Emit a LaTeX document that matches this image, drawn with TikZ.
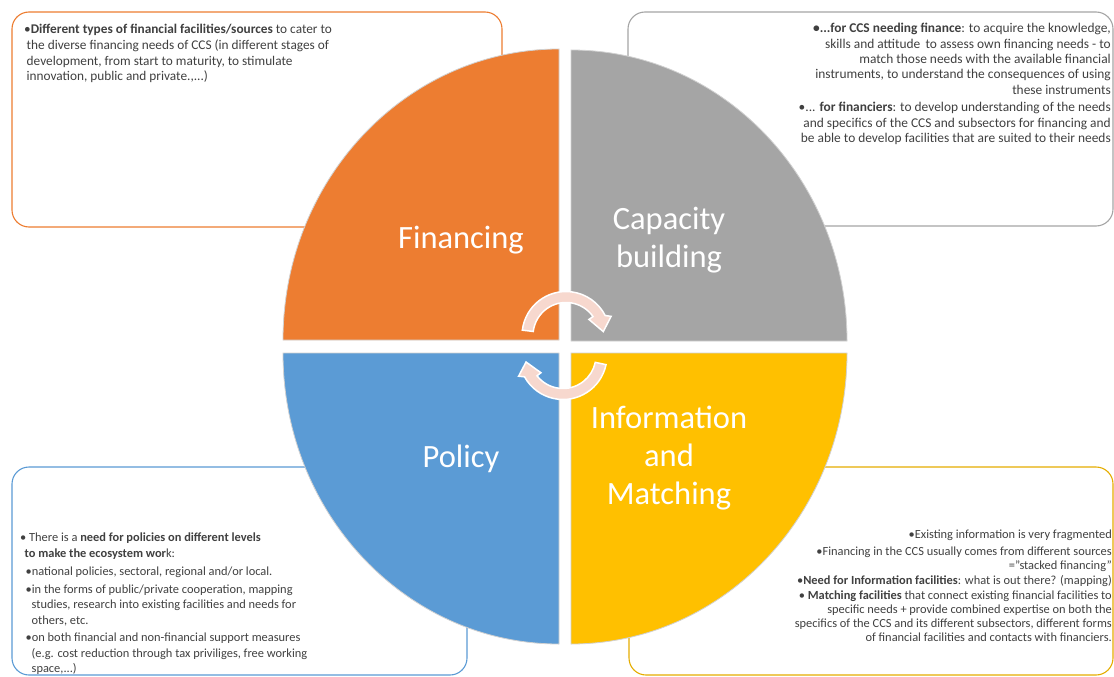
\documentclass[tikz,border=0pt]{standalone}
\usepackage{fontspec}
\setmainfont{Carlito}
\usetikzlibrary{calc}
\definecolor{corange}{HTML}{ED7D31}
\definecolor{cgray}{HTML}{A5A5A5}
\definecolor{cyellow}{HTML}{FFC000}
\definecolor{cblue}{HTML}{5B9BD5}
\definecolor{cpink}{RGB}{247,216,206}
\definecolor{ctext}{HTML}{404040}
\newcommand\bul{\textbullet}
\setlength{\lineskiplimit}{-30pt}
\begin{document}
\begin{tikzpicture}[x=1pt,y=-1pt,
  box/.style={draw=#1, line width=1.1pt, rounded corners=17pt, fill=white, inner sep=0pt, rectangle},
  quad/.style={fill=#1, draw=black!18, line width=0.8pt},
  biglabel/.style={text=white, font=\fontsize{32.5}{38}\selectfont, align=center, inner sep=0pt},
  bodytext/.style={text=ctext, inner sep=0pt},
  cyclearrow/.style={fill=cpink, draw=white, line width=1.5pt, line join=miter}]
\useasboundingbox[fill=white] (0,0) rectangle (1114,677);
% text boxes
\node[box=corange, minimum width=490pt, minimum height=215pt] (boxfin) at (257,119.5) {};
\node[box=cgray, minimum width=485pt, minimum height=214pt] (boxcap) at (870.5,119) {};
\node[box=cblue, minimum width=455pt, minimum height=208pt] (boxpol) at (239.5,571) {};
\node[box=cyellow!90!black, minimum width=484pt, minimum height=208pt] (boxinf) at (871,571) {};
% quadrants
\path[quad=corange] (559,340) -- (283,340) arc[start angle=180, end angle=270, x radius=276, y radius=291] -- cycle;
\path[quad=cgray] (571,341) -- (571,50) arc[start angle=270, end angle=360, x radius=276, y radius=291] -- cycle;
\path[quad=cyellow] (571,353) -- (847,353) arc[start angle=0, end angle=90, x radius=276, y radius=291] -- cycle;
\path[quad=cblue] (559,353) -- (559,644) arc[start angle=90, end angle=180, x radius=276, y radius=291] -- cycle;
% labels
\node[biglabel] (lfin) at (461,240) {Financing};
\node[biglabel] (lcap) at (669,240) {Capacity\\building};
\node[biglabel] (lpol) at (461,459) {Policy};
\node[biglabel] (linf) at (669,458) {Information\\and\\Matching};
% cycle arrows
\coordinate (U) at (566,335.5);
\coordinate (L) at (563,355.5);
\path[cyclearrow] ($(U)+(187:44)$) arc[start angle=187, end angle=333, radius=44]
  -- ($(U)+(337:49)$) -- ($(U)+(354:37.5)$) -- ($(U)+(325:28)$) -- ($(U)+(325:33)$)
  arc[start angle=325, end angle=187, radius=33] -- cycle;
\path[cyclearrow] ($(L)+(12:44)$) arc[start angle=12, end angle=151, radius=44]
  -- ($(L)+(155:49)$) -- ($(L)+(170:37.5)$) -- ($(L)+(142:28)$) -- ($(L)+(142:33)$)
  arc[start angle=142, end angle=12, radius=33] -- cycle;
% body texts
\node[bodytext, anchor=north west, align=left,
  font=\fontsize{13.3}{15.8}\selectfont] (tfin) at (24,24)
  {\bul\textbf{Different types of financial facilities/sources} to cater to\\
   \hspace{2.5pt}the diverse financing needs of CCS (in different stages of\\
   \hspace{2.5pt}development, from start to maturity, to stimulate\\
   \hspace{2.5pt}innovation, public and private.,...)};
\node[bodytext, anchor=north east, align=right,
  font=\fontsize{13.4}{15.4}\selectfont] (tcap) at (1111,23)
  {\textbf{\bul...for CCS needing finance}: to acquire the knowledge,\\
   skills and attitude\, to assess own financing needs - to\\
   match those needs with the available financial\\
   instruments, to understand the consequences of using\\
   these instruments\\[2pt]
   \bul... \textbf{for financiers}: to develop understanding of the needs\\
   and specifics of the CCS and subsectors for financing and\\
   be able to develop facilities that are suited to their needs};
\node[bodytext, anchor=north west, align=left,
  font=\fontsize{12.4}{15.5}\selectfont] (tpol) at (20,533)
  {\bul\ There is a \textbf{need for policies on different levels}\\
   \hspace{4.5pt}\textbf{to make the ecosystem wor}k:\\[2.5pt]
   \hspace{5.5pt}\bul national policies, sectoral, regional and/or local.\\[2.5pt]
   \hspace{5.5pt}\bul in the forms of public/private cooperation, mapping\\
   \hspace{11.5pt}studies, research into existing facilities and needs for\\
   \hspace{11.5pt}others, etc.\\[2pt]
   \hspace{5.5pt}\bul on both financial and non-financial support measures\\
   \hspace{11.5pt}(e.g. cost reduction through tax priviliges, free working\\
   \hspace{11.5pt}space,...)};
\node[bodytext, anchor=north east, align=right,
  font=\fontsize{12.4}{14.3}\selectfont] (tinf) at (1112,530)
  {\bul Existing information is very fragmented\\[2pt]
   \bul Financing in the CCS usually comes from different sources\\
   ="stacked financing"\\[1pt]
   \bul\textbf{Need for Information facilities}: what is out there? (mapping)\\
   \bul\ \textbf{Matching facilities} that connect existing financial facilities to\\
   specific needs + provide combined expertise on both the\\
   specifics of the CCS and its different subsectors, different forms\\
   of financial facilities and contacts with financiers.};
\end{tikzpicture}
\end{document}
